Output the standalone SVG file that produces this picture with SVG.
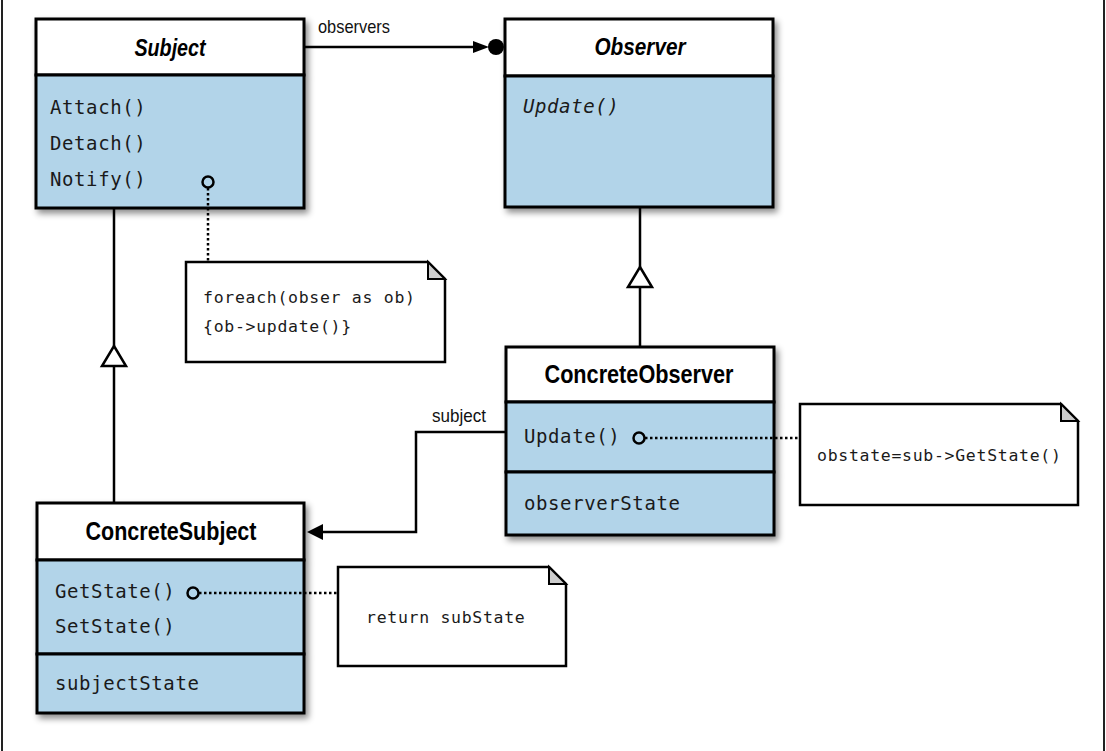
<svg xmlns="http://www.w3.org/2000/svg" width="1106" height="751" viewBox="0 0 1106 751">
<style>
.hdr{fill:#fff;stroke:#000;stroke-width:3}
.body{fill:#b2d4e9;stroke:#000;stroke-width:3}
.title{font-family:"Liberation Sans",Arial,sans-serif;font-weight:bold;font-size:25px;fill:#000}
.it{font-style:italic;font-size:24px}
.mono{font-family:"DejaVu Sans Mono","Liberation Mono",monospace;font-size:19px;letter-spacing:0.6px;fill:#1a1a1a}
.nmono{font-family:"DejaVu Sans Mono","Liberation Mono",monospace;font-size:16.5px;letter-spacing:0.7px;fill:#1a1a1a}
.lbl{font-family:"Liberation Sans",Arial,sans-serif;font-size:19px;fill:#111}
.line{fill:none;stroke:#000;stroke-width:2.5}
.dot{fill:none;stroke:#000;stroke-width:2.5;stroke-dasharray:2.5 2.5}
.note{fill:#fff;stroke:#000;stroke-width:2.5}
.fold{fill:#ccc;stroke:#000;stroke-width:2}
.pin{fill:none;stroke:#000;stroke-width:2.5}
.tri{fill:#fff;stroke:#000;stroke-width:2.5}
.frame{stroke:#222;stroke-width:2}
</style>
<defs>
<filter id="sh" x="-10%" y="-10%" width="130%" height="130%">
<feDropShadow dx="3" dy="4" stdDeviation="3" flood-color="#000" flood-opacity="0.45"/>
</filter>
</defs>
<rect x="0" y="0" width="1106" height="751" fill="#fff"/>
<line class="frame" x1="2" y1="0" x2="2" y2="751"/>
<line class="frame" x1="1104" y1="0" x2="1104" y2="751"/>

<g id="subject">
<g filter="url(#sh)">
<rect class="hdr" x="36" y="19" width="268" height="56"/>
<rect class="body" x="36" y="75" width="268" height="133"/>
</g>
<text class="title it" x="170" y="56" text-anchor="middle" textLength="71" lengthAdjust="spacingAndGlyphs">Subject</text>
<text class="mono" x="50" y="114">Attach()</text>
<text class="mono" x="50" y="150">Detach()</text>
<text class="mono" x="50" y="186">Notify()</text>
<circle class="pin" cx="208" cy="182" r="5.5"/>
</g>

<g id="observer">
<g filter="url(#sh)">
<rect class="hdr" x="505" y="19" width="268" height="57"/>
<rect class="body" x="505" y="76" width="268" height="131"/>
</g>
<text class="title it" x="640" y="55" text-anchor="middle" textLength="91" lengthAdjust="spacingAndGlyphs">Observer</text>
<text class="mono" font-style="italic" x="523" y="113">Update()</text>
</g>

<g id="concreteObserver">
<g filter="url(#sh)">
<rect class="hdr" x="506" y="347" width="268" height="55"/>
<rect class="body" x="506" y="402" width="268" height="70"/>
<rect class="body" x="506" y="472" width="268" height="63"/>
</g>
<text class="title" x="639" y="383" text-anchor="middle" textLength="189" lengthAdjust="spacingAndGlyphs">ConcreteObserver</text>
<text class="mono" x="524" y="443">Update()</text>
<circle class="pin" cx="639" cy="438" r="5.5"/>
<text class="mono" x="524" y="510">observerState</text>
</g>

<g id="concreteSubject">
<g filter="url(#sh)">
<rect class="hdr" x="37" y="503" width="267" height="57"/>
<rect class="body" x="37" y="560" width="267" height="94"/>
<rect class="body" x="37" y="654" width="267" height="59"/>
</g>
<text class="title" x="171" y="540" text-anchor="middle" textLength="171" lengthAdjust="spacingAndGlyphs">ConcreteSubject</text>
<text class="mono" x="55" y="598">GetState()</text>
<text class="mono" x="55" y="633">SetState()</text>
<circle class="pin" cx="193" cy="593" r="5.5"/>
<text class="mono" x="55" y="690">subjectState</text>
</g>

<g id="note1">
<path class="note" d="M186,262 H428 L445,279 V362 H186 Z"/>
<path class="fold" d="M428,262 V279 H445 Z"/>
<text class="nmono" x="203" y="303">foreach(obser as ob)</text>
<text class="nmono" x="203" y="332">{ob-&gt;update()}</text>
</g>

<g id="note2">
<path class="note" d="M800,404 H1061 L1078,421 V505 H800 Z"/>
<path class="fold" d="M1061,404 V421 H1078 Z"/>
<text class="nmono" x="817" y="461">obstate=sub-&gt;GetState()</text>
</g>

<g id="note3">
<path class="note" d="M338,567 H549 L566,584 V666 H338 Z"/>
<path class="fold" d="M549,567 V584 H566 Z"/>
<text class="nmono" x="366" y="623">return subState</text>
</g>

<g id="connectors">
<line class="line" x1="305" y1="47" x2="475" y2="47"/>
<polygon points="473,41 489,47 473,53" fill="#000"/>
<circle cx="496" cy="47" r="8" fill="#000"/>
<text class="lbl" x="318" y="33" textLength="72" lengthAdjust="spacingAndGlyphs">observers</text>
<line class="line" x1="114" y1="209" x2="114" y2="346"/>
<line class="line" x1="114" y1="366" x2="114" y2="502"/>
<polygon class="tri" points="114,346 126,366 102,366"/>
<line class="line" x1="640" y1="208" x2="640" y2="267"/>
<line class="line" x1="640" y1="287" x2="640" y2="346"/>
<polygon class="tri" points="640,267 652,287 628,287"/>
<polyline class="line" points="505,432 416,432 416,532 320,532"/>
<polygon points="307,532 323,524 323,540" fill="#000"/>
<text class="lbl" x="432" y="422" textLength="54" lengthAdjust="spacingAndGlyphs">subject</text>
<line class="dot" x1="208" y1="188" x2="208" y2="262"/>
<line class="dot" x1="199" y1="593" x2="337" y2="593"/>
<line class="dot" x1="645" y1="438" x2="800" y2="438"/>
</g>
</svg>
